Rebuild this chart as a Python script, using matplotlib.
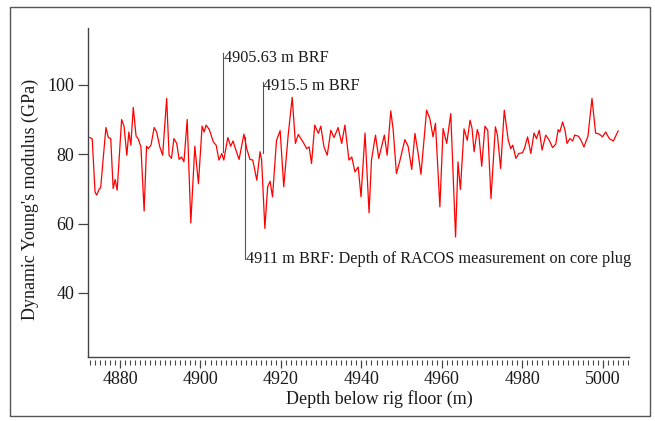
import matplotlib
matplotlib.use("Agg")
import matplotlib.pyplot as plt
from matplotlib.ticker import MultipleLocator
from matplotlib.patches import Rectangle

plt.rcParams['font.family'] = ['Liberation Serif', 'DejaVu Serif']
plt.rcParams['text.color'] = '#1a1a1a'
plt.rcParams['axes.labelcolor'] = '#1a1a1a'
plt.rcParams['xtick.labelcolor'] = '#1a1a1a'
plt.rcParams['ytick.labelcolor'] = '#1a1a1a'

# depth (m BRF) and dynamic Young's modulus (GPa) from the log
depth = [4872.5, 4873.1, 4873.8, 4874.2, 4874.9, 4875.2, 4876.5, 4877.1, 4877.7, 4878.3,
         4878.8, 4879.3, 4880.4, 4881.0, 4881.7, 4882.2, 4882.7, 4883.3, 4884.0, 4884.5,
         4885.2, 4886.0, 4886.6, 4887.0, 4887.7, 4888.5, 4889.1, 4889.9, 4890.6, 4891.6,
         4892.2, 4892.8, 4893.4, 4894.1, 4894.7, 4895.3, 4895.9, 4896.7, 4897.6, 4898.6,
         4899.5, 4900.4, 4900.9, 4901.4, 4902.2, 4903.2, 4903.9, 4904.6, 4905.3, 4905.8,
         4906.8, 4907.5, 4908.1, 4908.8, 4909.6, 4910.8, 4911.5, 4912.3, 4913.0, 4914.0,
         4914.8, 4915.2, 4916.0, 4916.7, 4917.3, 4917.9, 4918.9, 4919.8, 4920.7, 4921.8,
         4922.8, 4923.6, 4924.3, 4925.5, 4926.4, 4927.0, 4927.6, 4928.4, 4929.3, 4929.9,
         4930.7, 4931.5, 4932.4, 4933.2, 4934.2, 4935.1, 4935.9, 4936.9, 4937.6, 4938.4,
         4939.2, 4939.9, 4940.9, 4941.9, 4942.5, 4943.5, 4944.3, 4945.7, 4946.4, 4947.3,
         4947.9, 4948.7, 4949.6, 4950.8, 4951.6, 4952.5, 4953.3, 4954.1, 4954.8, 4956.2,
         4957.0, 4957.8, 4958.4, 4959.5, 4960.3, 4961.2, 4962.2, 4963.4, 4964.0, 4964.6,
         4965.5, 4966.3, 4967.0, 4967.5, 4968.0, 4968.8, 4969.2, 4969.9, 4970.7, 4971.4,
         4972.2, 4973.3, 4973.8, 4974.6, 4975.5, 4976.5, 4977.1, 4977.6, 4978.4, 4979.1,
         4980.0, 4980.5, 4981.3, 4982.1, 4982.9, 4983.5, 4984.2, 4984.9, 4985.8, 4986.6,
         4987.5, 4988.3, 4988.9, 4989.3, 4990.0, 4990.6, 4991.1, 4991.8, 4992.5, 4993.0,
         4993.9, 4994.5, 4995.3, 4996.3, 4997.3, 4998.2, 4999.1, 4999.9, 5000.7, 5001.6,
         5002.6, 5003.8]
modulus = [84.8, 84.4, 69.1, 68.2, 70.1, 70.3, 87.7, 84.8, 84.5, 70.1,
           72.7, 69.6, 90.0, 88.1, 79.7, 86.4, 82.6, 93.5, 85.2, 84.5,
           82.1, 63.6, 82.3, 81.6, 82.6, 87.7, 86.4, 82.1, 79.7, 96.1,
           79.7, 78.8, 84.5, 83.1, 78.5, 79.2, 77.8, 90.0, 60.2, 82.3,
           71.5, 88.1, 86.4, 88.4, 87.1, 83.5, 82.6, 78.3, 80.2, 78.3,
           84.8, 82.3, 83.8, 81.2, 78.5, 85.8, 81.6, 78.5, 78.3, 72.5,
           80.7, 78.3, 58.6, 70.6, 72.2, 67.7, 84.0, 86.8, 70.6, 85.5,
           96.4, 83.1, 85.7, 83.5, 81.6, 82.1, 77.3, 88.4, 86.0, 88.1,
           82.1, 79.7, 86.9, 84.8, 87.7, 83.1, 88.4, 78.3, 79.2, 74.9,
           76.3, 67.7, 86.1, 63.1, 78.3, 85.5, 78.8, 85.5, 79.7, 92.5,
           86.9, 74.4, 78.3, 84.2, 82.3, 75.6, 86.0, 80.2, 74.2, 92.7,
           90.3, 85.0, 88.9, 64.8, 87.4, 83.1, 91.7, 56.1, 77.8, 69.8,
           87.3, 84.0, 89.8, 87.4, 80.7, 87.1, 85.5, 76.5, 88.1, 86.9,
           67.2, 87.9, 85.5, 75.9, 92.7, 84.0, 81.6, 82.6, 78.8, 80.2,
           80.4, 81.6, 85.0, 80.2, 86.1, 84.5, 86.9, 81.2, 85.5, 84.2,
           81.9, 82.9, 87.1, 86.4, 89.3, 86.9, 83.1, 84.5, 83.8, 85.5,
           85.2, 84.2, 82.1, 85.2, 96.1, 86.1, 85.8, 85.0, 86.4, 84.5,
           83.8, 86.7]

# marker depths: (depth, line start, line end, label)
marks = [
    (4905.63, 80.6, 109.1, "4905.63 m BRF"),
    (4915.5, 80.4, 100.9, "4915.5 m BRF"),
    (4911.0, 85.0, 49.9, "4911 m BRF: Depth of RACOS measurement on core plug"),
]

fig = plt.figure(figsize=(6.55, 4.21), dpi=100)
ax = fig.add_axes([88 / 655, 64 / 421, 541 / 655, 329 / 421])

# border around the whole figure
fig.patches.append(Rectangle((10 / 655, 5 / 421), 640 / 655, 409 / 421,
                             transform=fig.transFigure, fill=False,
                             edgecolor='#555555', linewidth=1.0))

ax.plot(depth, modulus, color='#ff0000', linewidth=0.9, zorder=3)

for x, y0, y1, text in marks:
    ax.plot([x, x], [y0, y1], color='#555555', linewidth=0.8, zorder=2)
    if y1 > y0:
        ax.text(x + 0.15, y1 - 2.5, text, fontsize=11.7, va='baseline', ha='left')
    else:
        ax.text(x + 0.3, y1 - 1.4, text, fontsize=11.7, va='baseline', ha='left')

ax.set_xlim(4872.05, 5006.5)
ax.set_ylim(21.5, 116.4)

for side in ('top', 'right'):
    ax.spines[side].set_visible(False)
ax.spines['left'].set_color('#444444')
ax.spines['left'].set_linewidth(1.0)
# ticks hang just below the bottom axis line
ax.spines['bottom'].set_position(('outward', 2))
ax.spines['bottom'].set_visible(False)
ax.plot([0, 1], [0, 0], transform=ax.transAxes, color='#444444',
        linewidth=1.0, clip_on=False)

ax.xaxis.set_major_locator(MultipleLocator(20))
ax.xaxis.set_minor_locator(MultipleLocator(1.25))
ax.yaxis.set_major_locator(MultipleLocator(20))
ax.tick_params(axis='x', which='major', length=6, width=0.9, color='#444444',
               labelsize=13, pad=2)
ax.tick_params(axis='x', which='minor', length=3.5, width=0.8, color='#444444')
ax.tick_params(axis='y', which='major', length=7, width=0.9, color='#444444',
               labelsize=13, pad=3)

ax.set_xlabel("Depth below rig floor (m)", fontsize=13)
ax.set_ylabel("Dynamic Young's modulus (GPa)", fontsize=13)
ax.xaxis.set_label_coords(0.538, -0.102)
ax.yaxis.set_label_coords(-0.091, 0.48)

fig.savefig("out.png", dpi=100)
